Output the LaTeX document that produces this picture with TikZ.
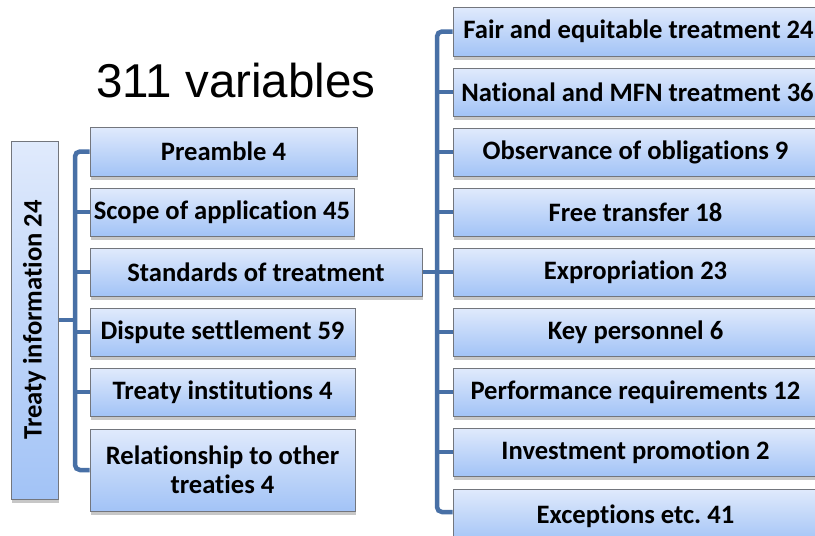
\documentclass[tikz,border=0pt]{standalone}
\usepackage{fontspec}
\setmainfont{Carlito}[Ligatures=NoCommon]
\newfontfamily\titlefont{Liberation Sans}
\usetikzlibrary{shadows}
\frenchspacing
\definecolor{conncol}{RGB}{72,112,166}
\definecolor{boxtop}{RGB}{224,234,252}
\definecolor{boxbot}{RGB}{162,195,246}
\definecolor{boxline}{RGB}{115,118,125}
\tikzset{
  box/.style={draw=boxline, line width=1pt, top color=boxtop, bottom color=boxbot,
    drop shadow={shadow xshift=1pt, shadow yshift=-4pt, opacity=0.22, fill=black},
    inner sep=0pt, align=center, font=\bfseries\fontsize{26.6}{29}\selectfont},
  conn/.style={draw=conncol, line width=4.5pt, rounded corners=5pt}
}
\begin{document}
\begin{tikzpicture}[x=1pt,y=-1pt]
\fill[white] (0,0) rectangle (815,536);
\useasboundingbox (0,0) rectangle (815,536);
\clip (0,0) rectangle (815,536);
\node[font=\titlefont\fontsize{47.5}{50}\selectfont, anchor=base, inner sep=0pt] (title) at (236,97) {311 variables};
% left box
\node[box, minimum width=47pt, minimum height=358pt] (tinfo) at (34.5,320) {};
\node[rotate=90, font=\bfseries\fontsize{26.6}{29}\selectfont] (tinfotext) at (tinfo.center) {Treaty information 24};
% middle column
\node[box, minimum width=267pt, minimum height=49pt] (pre) at (223.5,151.5) {Preamble 4};
\node[box, minimum width=264pt, minimum height=48pt] (scope) at (222,212) {Scope of application 45};
\node[box, minimum width=332pt, minimum height=48pt] (std) at (256,272) {Standards of treatment};
\node[box, minimum width=265pt, minimum height=48pt] (disp) at (222.5,332) {Dispute settlement 59};
\node[box, minimum width=265pt, minimum height=48pt] (inst) at (222.5,392) {Treaty institutions 4};
\node[box, minimum width=265pt, minimum height=82pt] (rel) at (222.5,470) {Relationship to other\\treaties 4};
% right column
\node[box, minimum width=365pt, minimum height=49pt] (fair) at (635.5,31.5) {\hspace*{6pt}Fair and equitable treatment 24};
\node[box, minimum width=365pt, minimum height=48pt] (nat) at (635.5,92) {\hspace*{4pt}National and MFN treatment 36};
\node[box, minimum width=365pt, minimum height=48pt] (obs) at (635.5,152) {Observance of obligations 9};
\node[box, minimum width=365pt, minimum height=48pt] (free) at (635.5,212) {Free transfer 18};
\node[box, minimum width=365pt, minimum height=48pt] (expr) at (635.5,272) {Expropriation 23};
\node[box, minimum width=365pt, minimum height=48pt] (key) at (635.5,332) {Key personnel 6};
\node[box, minimum width=365pt, minimum height=48pt] (perf) at (635.5,392) {Performance requirements 12};
\node[box, minimum width=365pt, minimum height=48pt] (inv) at (635.5,452) {Investment promotion 2};
\node[box, minimum width=365pt, minimum height=54pt] (exc) at (635.5,516) {Exceptions etc. 41};
% connectors
\coordinate (lt) at (75,0);
\coordinate (rt) at (437,0);
\coordinate (excw) at ([yshift=4pt]exc.west);
\draw[conn] (pre.west) -- (pre.west -| lt) -- (rel.west -| lt) -- (rel.west);
\foreach \n in {scope,std,disp,inst}{\draw[conn] (\n.west -| lt) -- (\n.west);}
\draw[conn] (tinfo.east) -- (tinfo.east -| lt);
\draw[conn] (fair.west) -- (fair.west -| rt) -- (excw -| rt) -- (excw);
\foreach \n in {nat,obs,free,expr,key,perf,inv}{\draw[conn] (\n.west -| rt) -- (\n.west);}
\draw[conn] (std.east) -- (std.east -| rt);
\end{tikzpicture}
\end{document}
